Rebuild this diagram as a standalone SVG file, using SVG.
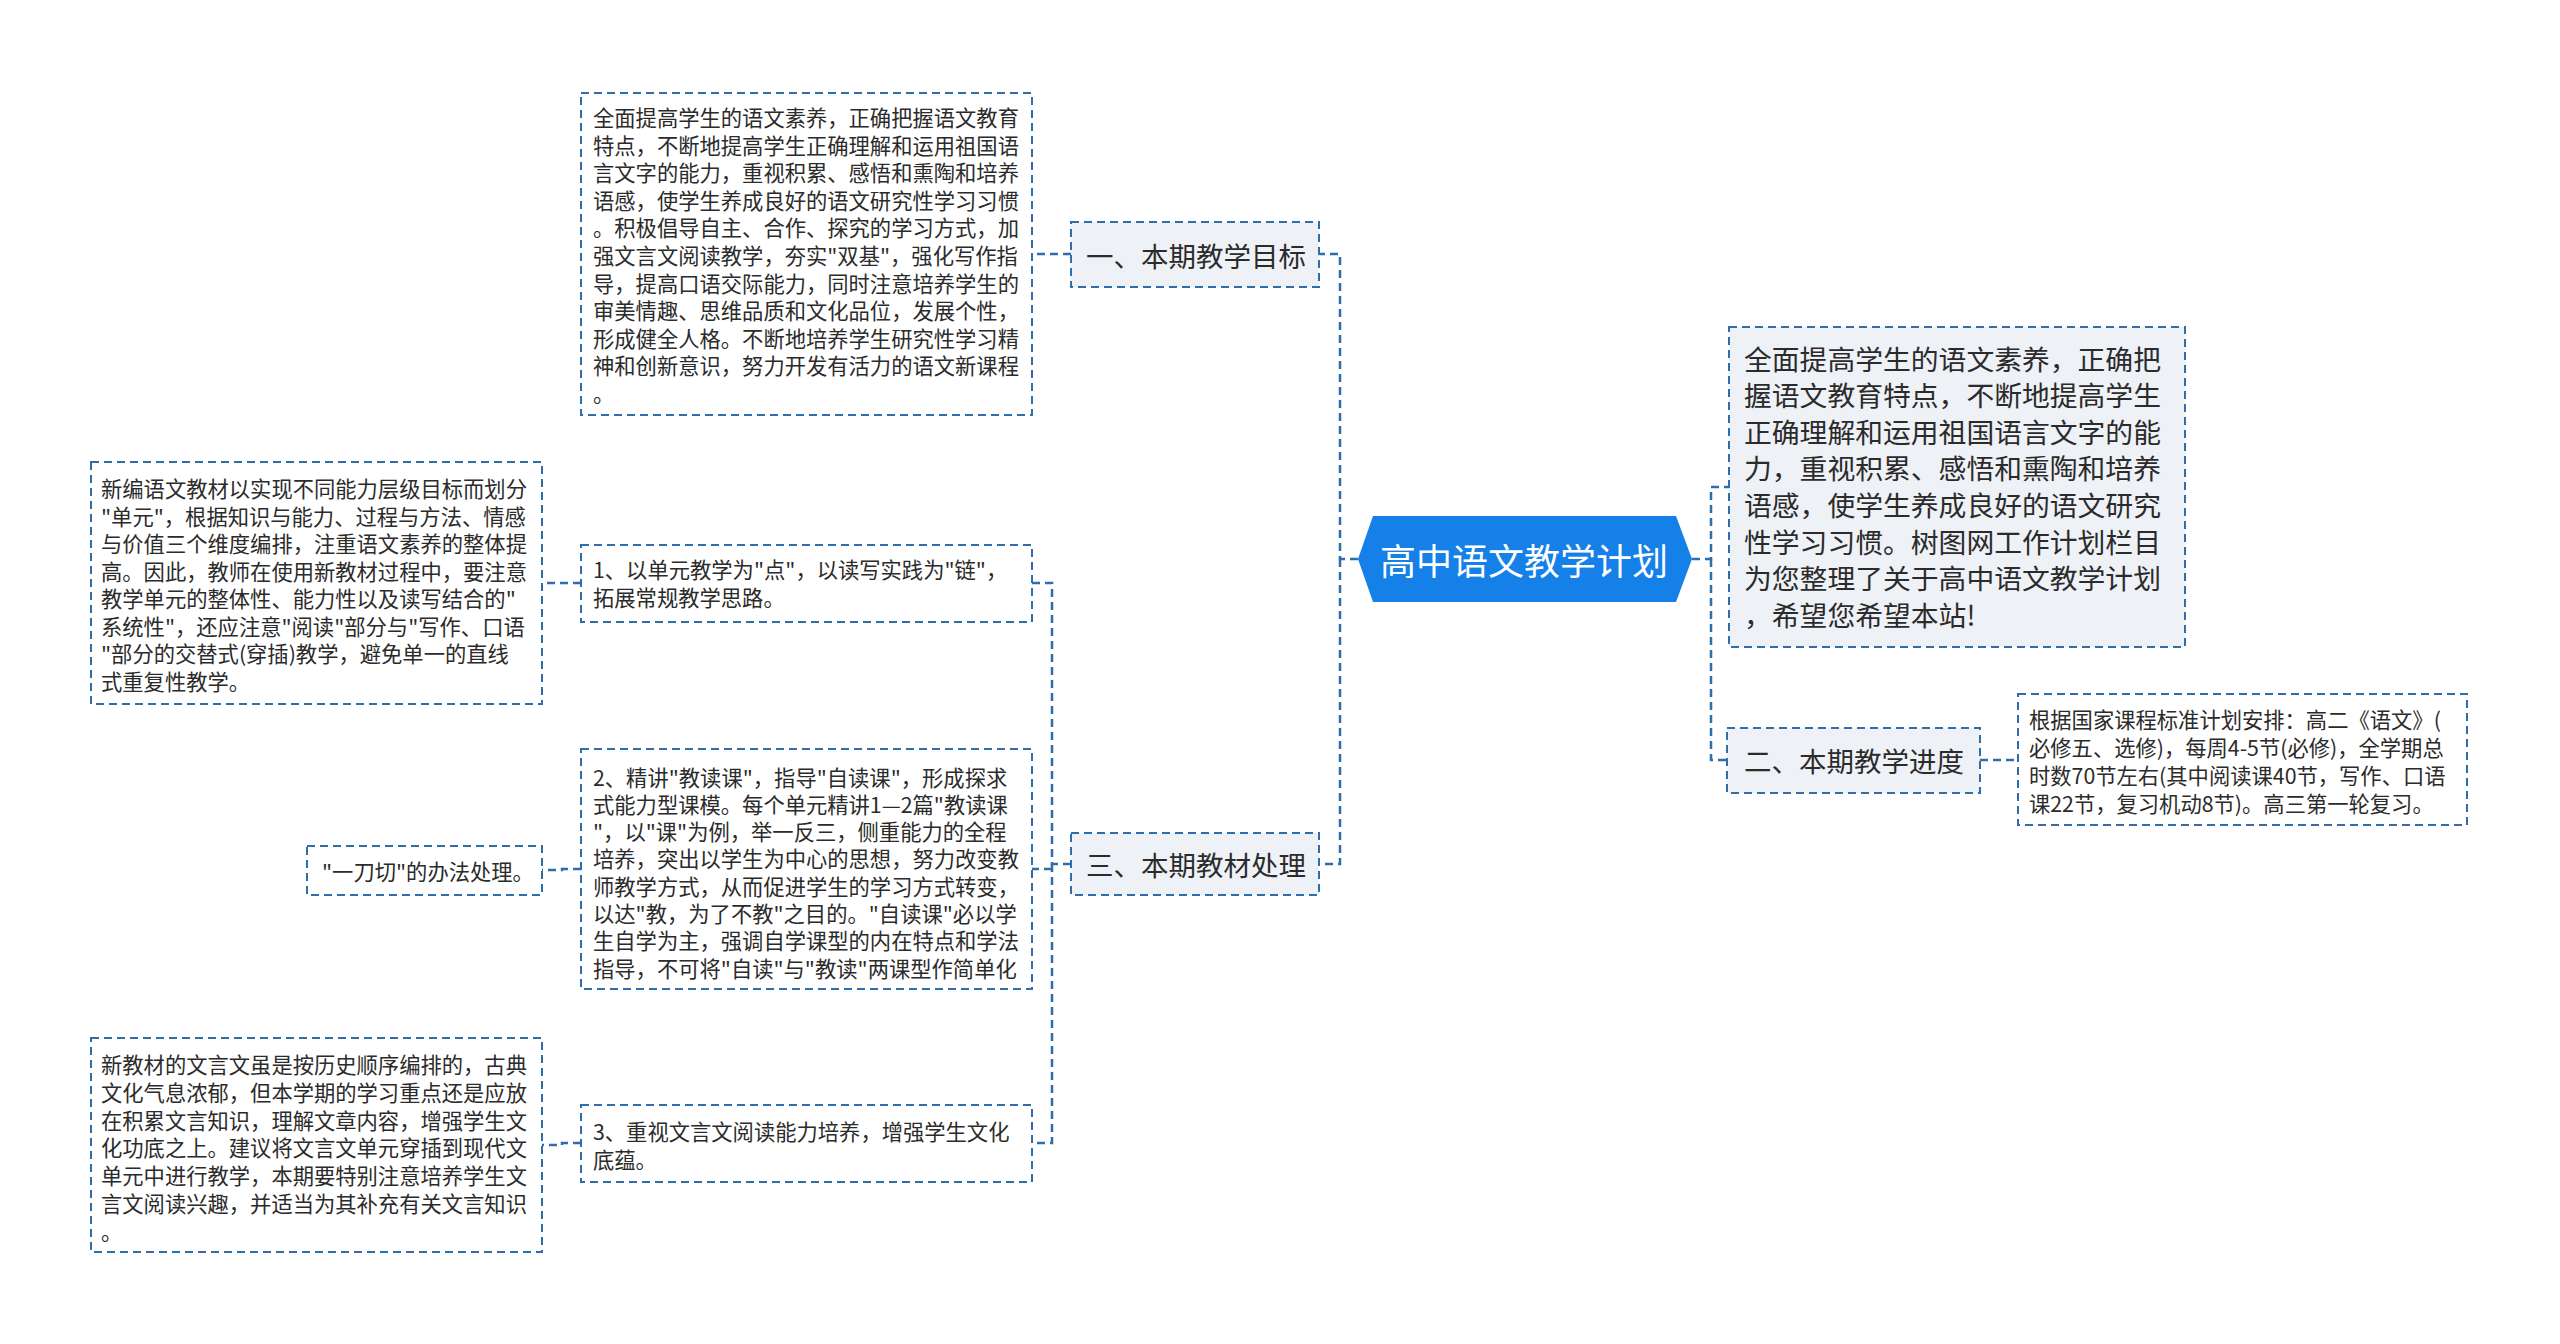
<svg xmlns="http://www.w3.org/2000/svg" width="2560" height="1344" viewBox="0 0 2560 1344">
<style>
text{font-family:"Noto Sans CJK SC","Noto Sans CJK TC",sans-serif;fill:#2b2b2b;dominant-baseline:central}
.leaf{font-size:21.3px}
.l1{font-size:27.5px}
.big{font-size:27.8px}
.root{font-size:36px;fill:#ffffff;text-anchor:middle}
.box{fill:#ffffff;stroke:#2f6eaa;stroke-width:2;stroke-dasharray:8 5}
.gbox{fill:#eef1f6;stroke:#2f6eaa;stroke-width:2;stroke-dasharray:8 5}
.conn path{fill:none;stroke:#2f6eaa;stroke-width:2.5;stroke-dasharray:8 5}
</style>
<rect width="2560" height="1344" fill="#ffffff"/>
<g class="conn" id="connectors">
<path d="M1358,559 H1340 V254 H1319"/>
<path d="M1340,559 V864 H1319"/>
<path d="M1071,254 H1032"/>
<path d="M1071,864 H1052 V583 H1032"/>
<path d="M1052,864 V1143 H1032"/>
<path d="M1052,869 H1032"/>
<path d="M581,583 H542"/>
<path d="M581,869 H562 V870 H542"/>
<path d="M581,1143 H562 V1145 H542"/>
<path d="M1692,559 H1711 V487 H1729"/>
<path d="M1711,559 V760 H1727"/>
<path d="M1980,760 H2018"/>
</g>
<g id="root">
<polygon points="1358,559 1373,516 1676,516 1692,559 1676,602 1373,602" fill="#1580e8"/>
<text class="root" x="1524" y="559">高中语文教学计划</text>
</g>
<g id="n1">
<rect class="gbox" x="1071" y="222" width="248" height="65"/>
<text class="l1" x="1086" y="254.5">一、本期教学目标</text>
</g>
<g id="n1a">
<rect class="box" x="581" y="93" width="451" height="322"/>
<text class="leaf" x="593" y="116"><tspan x="593" dy="0">全面提高学生的语文素养，正确把握语文教育</tspan><tspan x="593" dy="27.6">特点，不断地提高学生正确理解和运用祖国语</tspan><tspan x="593" dy="27.6">言文字的能力，重视积累、感悟和熏陶和培养</tspan><tspan x="593" dy="27.6">语感，使学生养成良好的语文研究性学习习惯</tspan><tspan x="593" dy="27.6">。积极倡导自主、合作、探究的学习方式，加</tspan><tspan x="593" dy="27.6">强文言文阅读教学，夯实"双基"，强化写作指</tspan><tspan x="593" dy="27.6">导，提高口语交际能力，同时注意培养学生的</tspan><tspan x="593" dy="27.6">审美情趣、思维品质和文化品位，发展个性，</tspan><tspan x="593" dy="27.6">形成健全人格。不断地培养学生研究性学习精</tspan><tspan x="593" dy="27.6">神和创新意识，努力开发有活力的语文新课程</tspan><tspan x="593" dy="27.6">。</tspan></text>
</g>
<g id="n3">
<rect class="gbox" x="1071" y="833" width="248" height="62"/>
<text class="l1" x="1086" y="864">三、本期教材处理</text>
</g>
<g id="n3a">
<rect class="box" x="581" y="545" width="451" height="77"/>
<text class="leaf" x="593" y="568"><tspan x="593" dy="0">1、以单元教学为"点"，以读写实践为"链"，</tspan><tspan x="593" dy="28">拓展常规教学思路。</tspan></text>
</g>
<g id="n3a1">
<rect class="box" x="91" y="462" width="451" height="242"/>
<text class="leaf" x="101" y="487"><tspan x="101" dy="0">新编语文教材以实现不同能力层级目标而划分</tspan><tspan x="101" dy="27.5">"单元"，根据知识与能力、过程与方法、情感</tspan><tspan x="101" dy="27.5">与价值三个维度编排，注重语文素养的整体提</tspan><tspan x="101" dy="27.5">高。因此，教师在使用新教材过程中，要注意</tspan><tspan x="101" dy="27.5">教学单元的整体性、能力性以及读写结合的"</tspan><tspan x="101" dy="27.5">系统性"，还应注意"阅读"部分与"写作、口语</tspan><tspan x="101" dy="27.5">"部分的交替式(穿插)教学，避免单一的直线</tspan><tspan x="101" dy="27.5">式重复性教学。</tspan></text>
</g>
<g id="n3b">
<rect class="box" x="581" y="749" width="451" height="240"/>
<text class="leaf" x="593" y="775.5"><tspan x="593" dy="0">2、精讲"教读课"，指导"自读课"，形成探求</tspan><tspan x="593" dy="27.3">式能力型课模。每个单元精讲1—2篇"教读课</tspan><tspan x="593" dy="27.3">"，以"课"为例，举一反三，侧重能力的全程</tspan><tspan x="593" dy="27.3">培养，突出以学生为中心的思想，努力改变教</tspan><tspan x="593" dy="27.3">师教学方式，从而促进学生的学习方式转变，</tspan><tspan x="593" dy="27.3">以达"教，为了不教"之目的。"自读课"必以学</tspan><tspan x="593" dy="27.3">生自学为主，强调自学课型的内在特点和学法</tspan><tspan x="593" dy="27.3">指导，不可将"自读"与"教读"两课型作简单化</tspan></text>
</g>
<g id="n3b1">
<rect class="box" x="307" y="846" width="235" height="49"/>
<text class="leaf" x="322" y="870">"一刀切"的办法处理。</text>
</g>
<g id="n3c">
<rect class="box" x="581" y="1105" width="451" height="77"/>
<text class="leaf" x="593" y="1130"><tspan x="593" dy="0">3、重视文言文阅读能力培养，增强学生文化</tspan><tspan x="593" dy="28">底蕴。</tspan></text>
</g>
<g id="n3c1">
<rect class="box" x="91" y="1038" width="451" height="214"/>
<text class="leaf" x="101" y="1063"><tspan x="101" dy="0">新教材的文言文虽是按历史顺序编排的，古典</tspan><tspan x="101" dy="27.8">文化气息浓郁，但本学期的学习重点还是应放</tspan><tspan x="101" dy="27.8">在积累文言知识，理解文章内容，增强学生文</tspan><tspan x="101" dy="27.8">化功底之上。建议将文言文单元穿插到现代文</tspan><tspan x="101" dy="27.8">单元中进行教学，本期要特别注意培养学生文</tspan><tspan x="101" dy="27.8">言文阅读兴趣，并适当为其补充有关文言知识</tspan><tspan x="101" dy="27.8">。</tspan></text>
</g>
<g id="intro">
<rect class="gbox" x="1729" y="327" width="456" height="320"/>
<text class="big" x="1744" y="357.5"><tspan x="1744" dy="0">全面提高学生的语文素养，正确把</tspan><tspan x="1744" dy="36.6">握语文教育特点，不断地提高学生</tspan><tspan x="1744" dy="36.6">正确理解和运用祖国语言文字的能</tspan><tspan x="1744" dy="36.6">力，重视积累、感悟和熏陶和培养</tspan><tspan x="1744" dy="36.6">语感，使学生养成良好的语文研究</tspan><tspan x="1744" dy="36.6">性学习习惯。树图网工作计划栏目</tspan><tspan x="1744" dy="36.6">为您整理了关于高中语文教学计划</tspan><tspan x="1744" dy="36.6">，希望您希望本站!</tspan></text>
</g>
<g id="n2">
<rect class="gbox" x="1727" y="728" width="253" height="65"/>
<text class="l1" x="1744" y="760">二、本期教学进度</text>
</g>
<g id="n2a">
<rect class="box" x="2018" y="694" width="449" height="131"/>
<text class="leaf" x="2029" y="718"><tspan x="2029" dy="0">根据国家课程标准计划安排：高二《语文》(</tspan><tspan x="2029" dy="28">必修五、选修)，每周4-5节(必修)，全学期总</tspan><tspan x="2029" dy="28">时数70节左右(其中阅读课40节，写作、口语</tspan><tspan x="2029" dy="28">课22节，复习机动8节)。高三第一轮复习。</tspan></text>
</g>
</svg>
